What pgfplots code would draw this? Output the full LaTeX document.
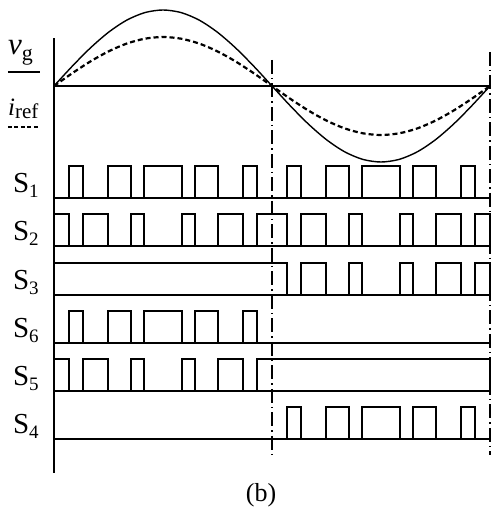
\documentclass[border=0pt]{standalone}
\usepackage{fontspec}
\setmainfont{Liberation Serif}
\usepackage{pgfplots}
\pgfplotsset{compat=1.18}
\usepackage{pgfplotstable}

\pgfplotstableread{
t     s1 s2 s3 s6 s5 s4
0     0  1  1  0  1  0
12    1  0  1  1  0  0
24    0  1  1  0  1  0
44.5  1  0  1  1  0  0
63.5  0  1  1  0  1  0
74.5  1  0  1  1  0  0
105.5 0  1  1  0  1  0
116.5 1  0  1  1  0  0
135.5 0  1  1  0  1  0
156   1  0  1  1  0  0
168   0  1  1  0  1  0
192   1  0  0  0  1  1
204   0  1  1  0  1  0
224.5 1  0  0  0  1  1
243.5 0  1  1  0  1  0
254.5 1  0  0  0  1  1
285.5 0  1  1  0  1  0
296.5 1  0  0  0  1  1
315.5 0  1  1  0  1  0
336   1  0  0  0  1  1
348   0  1  1  0  1  0
360   0  0  0  0  0  0
}\pulses

\pgfplotstableread{
t   vg     iref
0   0      0
15  19.7   12.7
30  38.0   24.5
45  53.7   34.6
60  65.8   42.4
75  73.4   47.3
90  76.0   49.0
105 73.4   47.3
120 65.8   42.4
135 53.7   34.6
150 38.0   24.5
165 19.7   12.7
180 0      0
195 -19.7  -12.7
210 -38.0  -24.5
225 -53.7  -34.6
240 -65.8  -42.4
255 -73.4  -47.3
270 -76.0  -49.0
285 -73.4  -47.3
300 -65.8  -42.4
315 -53.7  -34.6
330 -38.0  -24.5
345 -19.7  -12.7
360 0      0
}\waves

\begin{document}
\begin{tikzpicture}
\begin{axis}[scale only axis, width=496pt, height=507pt,
  xmin=-44.59, xmax=364.96, ymin=0, ymax=507,
  hide axis, clip=false]
\path (rel axis cs:0,0) rectangle (rel axis cs:1,1);
% sine waves
\addplot[black, line width=1.4pt, smooth] table[x=t, y expr=421+\thisrow{vg}] {\waves};
\addplot[black, line width=2.2pt, smooth, dash pattern=on 5pt off 3pt] table[x=t, y expr=421+\thisrow{iref}] {\waves};
% axes
\addplot[black, line width=2.5pt] coordinates {(0,34) (0,469)};
\addplot[black, line width=2pt] coordinates {(0,421) (360,421)};
% dash-dot markers
\addplot[black, line width=1.3pt, dash pattern=on 14pt off 4pt on 1.5pt off 4pt] coordinates {(180,447) (180,52)};
\addplot[black, line width=1.3pt, dash pattern=on 14pt off 4pt on 1.5pt off 4pt] coordinates {(360,455) (360,52)};
% row baselines
\addplot[black, line width=2pt] coordinates {(0,309) (360,309)};
\addplot[black, line width=2pt] coordinates {(0,261) (360,261)};
\addplot[black, line width=2pt] coordinates {(0,212) (360,212)};
\addplot[black, line width=2pt] coordinates {(0,164) (360,164)};
\addplot[black, line width=2pt] coordinates {(0,116) (360,116)};
\addplot[black, line width=2pt] coordinates {(0,68) (360,68)};
% pulses
\addplot[black, line width=2pt, const plot] table[x=t, y expr=309+32*\thisrow{s1}] {\pulses};
\addplot[black, line width=2pt, const plot] table[x=t, y expr=261+32*\thisrow{s2}] {\pulses};
\addplot[black, line width=2pt, const plot] table[x=t, y expr=212+32*\thisrow{s3}] {\pulses};
\addplot[black, line width=2pt, const plot] table[x=t, y expr=164+32*\thisrow{s6}] {\pulses};
\addplot[black, line width=2pt, const plot] table[x=t, y expr=116+32*\thisrow{s5}] {\pulses};
\addplot[black, line width=2pt, const plot] table[x=t, y expr=68+32*\thisrow{s4}] {\pulses};
% legend samples
\addplot[black, line width=1.4pt] coordinates {(-38,435) (-11.6,435)};
\addplot[black, line width=2pt, dash pattern=on 4pt off 2.5pt] coordinates {(-38,380) (-11.6,380)};
% labels
\node[anchor=base west, inner sep=0] at (axis cs:-38,452) {\fontsize{31}{31}\selectfont\itshape v\raisebox{-6pt}{\fontsize{22}{22}\selectfont\upshape g}};
\node[anchor=base west, inner sep=0] at (axis cs:-38,391) {\fontsize{25}{25}\selectfont\itshape i\raisebox{-3pt}{\fontsize{21}{21}\selectfont\upshape ref}};
\node[anchor=base west, inner sep=0] at (axis cs:-34,314) {\fontsize{29}{29}\selectfont S\raisebox{-5pt}{\fontsize{19}{19}\selectfont 1}};
\node[anchor=base west, inner sep=0] at (axis cs:-34,266) {\fontsize{29}{29}\selectfont S\raisebox{-5pt}{\fontsize{19}{19}\selectfont 2}};
\node[anchor=base west, inner sep=0] at (axis cs:-34,217) {\fontsize{29}{29}\selectfont S\raisebox{-5pt}{\fontsize{19}{19}\selectfont 3}};
\node[anchor=base west, inner sep=0] at (axis cs:-34,169) {\fontsize{29}{29}\selectfont S\raisebox{-5pt}{\fontsize{19}{19}\selectfont 6}};
\node[anchor=base west, inner sep=0] at (axis cs:-34,121) {\fontsize{29}{29}\selectfont S\raisebox{-5pt}{\fontsize{19}{19}\selectfont 5}};
\node[anchor=base west, inner sep=0] at (axis cs:-34,73) {\fontsize{29}{29}\selectfont S\raisebox{-5pt}{\fontsize{19}{19}\selectfont 4}};
\node[inner sep=0] at (axis cs:171,12) {\fontsize{26}{26}\selectfont (b)};
\end{axis}
\end{tikzpicture}
\end{document}
